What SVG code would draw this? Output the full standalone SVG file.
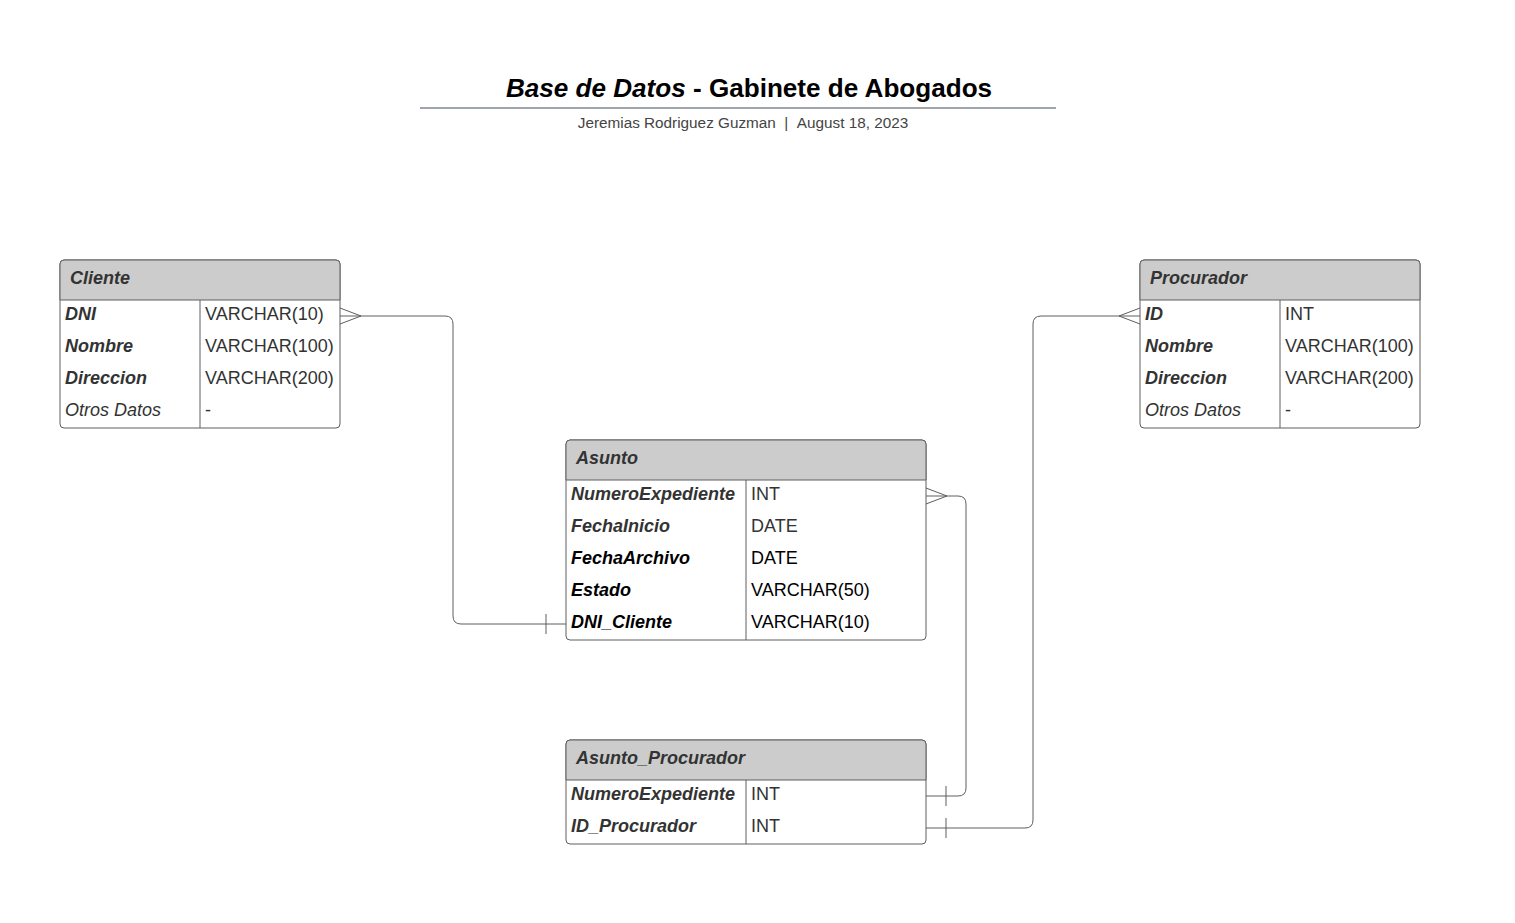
<svg xmlns="http://www.w3.org/2000/svg" width="1515" height="923" viewBox="0 0 1515 923">
<style>
text{font-family:"Liberation Sans",Arial,sans-serif}
.box{fill:#fff;stroke:#5e5e5e;stroke-width:1}
.hdr{fill:#cccccc;stroke:#5e5e5e;stroke-width:1}
.ln{stroke:#5e5e5e;stroke-width:1;fill:none}
.ht{font-size:18px;font-weight:bold;font-style:italic;fill:#333}
.k{font-size:18px;font-weight:bold;font-style:italic;fill:#333}
.kb{font-size:18px;font-weight:bold;font-style:italic;fill:#000}
.o{font-size:18px;font-style:italic;fill:#333}
.t{font-size:18px;fill:#333}
.tb{font-size:18px;fill:#000}
.c{stroke:#5e5e5e;stroke-width:1;fill:none}
</style>
<rect width="1515" height="923" fill="#fff"/>
<g id="title">
<text x="749" y="97" text-anchor="middle" font-size="26.1" font-weight="bold" fill="#000"><tspan font-style="italic">Base de Datos</tspan> - Gabinete de Abogados</text>
<line x1="420" y1="108" x2="1056" y2="108" stroke="#a0a4ab" stroke-width="2"/>
<text x="743" y="128" text-anchor="middle" font-size="15.3" fill="#444">Jeremias Rodriguez Guzman&#160;&#160;|&#160;&#160;August 18, 2023</text>
</g>
<g id="connectors">
<path class="c" d="M340,316 H445 Q453,316 453,324 V616 Q453,624 461,624 H566"/>
<path class="c" d="M340,308 L361,316 L340,324"/>
<path class="c" d="M546,614 V634"/>
<path class="c" d="M1140,316 H1041 Q1033,316 1033,324 V820 Q1033,828 1025,828 H926"/>
<path class="c" d="M1140,308 L1119,316 L1140,324"/>
<path class="c" d="M946,818 V838"/>
<path class="c" d="M926,496 H958 Q966,496 966,504 V788 Q966,796 958,796 H926"/>
<path class="c" d="M926,488 L947,496 L926,504"/>
<path class="c" d="M946,786 V806"/>
</g>
<g id="Cliente">
<rect class="box" x="60" y="260" width="280" height="168" rx="4"/>
<path class="hdr" d="M60,300 V264 Q60,260 64,260 H336 Q340,260 340,264 V300 Z"/>
<line class="ln" x1="200" y1="300" x2="200" y2="428"/>
<text class="ht" x="70" y="284">Cliente</text>
<text class="k" x="65" y="320">DNI</text><text class="t" x="205" y="320">VARCHAR(10)</text>
<text class="k" x="65" y="352">Nombre</text><text class="t" x="205" y="352">VARCHAR(100)</text>
<text class="k" x="65" y="384">Direccion</text><text class="t" x="205" y="384">VARCHAR(200)</text>
<text class="o" x="65" y="416">Otros Datos</text><text class="t" x="205" y="416">-</text>
</g>
<g id="Procurador">
<rect class="box" x="1140" y="260" width="280" height="168" rx="4"/>
<path class="hdr" d="M1140,300 V264 Q1140,260 1144,260 H1416 Q1420,260 1420,264 V300 Z"/>
<line class="ln" x1="1280" y1="300" x2="1280" y2="428"/>
<text class="ht" x="1150" y="284">Procurador</text>
<text class="k" x="1145" y="320">ID</text><text class="t" x="1285" y="320">INT</text>
<text class="k" x="1145" y="352">Nombre</text><text class="t" x="1285" y="352">VARCHAR(100)</text>
<text class="k" x="1145" y="384">Direccion</text><text class="t" x="1285" y="384">VARCHAR(200)</text>
<text class="o" x="1145" y="416">Otros Datos</text><text class="t" x="1285" y="416">-</text>
</g>
<g id="Asunto">
<rect class="box" x="566" y="440" width="360" height="200" rx="4"/>
<path class="hdr" d="M566,480 V444 Q566,440 570,440 H922 Q926,440 926,444 V480 Z"/>
<line class="ln" x1="746" y1="480" x2="746" y2="640"/>
<text class="ht" x="576" y="464">Asunto</text>
<text class="k" x="571" y="500">NumeroExpediente</text><text class="t" x="751" y="500">INT</text>
<text class="k" x="571" y="532">FechaInicio</text><text class="t" x="751" y="532">DATE</text>
<text class="kb" x="571" y="564">FechaArchivo</text><text class="tb" x="751" y="564">DATE</text>
<text class="kb" x="571" y="596">Estado</text><text class="tb" x="751" y="596">VARCHAR(50)</text>
<text class="kb" x="571" y="628">DNI_Cliente</text><text class="tb" x="751" y="628">VARCHAR(10)</text>
</g>
<g id="Asunto_Procurador">
<rect class="box" x="566" y="740" width="360" height="104" rx="4"/>
<path class="hdr" d="M566,780 V744 Q566,740 570,740 H922 Q926,740 926,744 V780 Z"/>
<line class="ln" x1="746" y1="780" x2="746" y2="844"/>
<text class="ht" x="576" y="764">Asunto_Procurador</text>
<text class="k" x="571" y="800">NumeroExpediente</text><text class="t" x="751" y="800">INT</text>
<text class="k" x="571" y="832">ID_Procurador</text><text class="t" x="751" y="832">INT</text>
</g>
</svg>
